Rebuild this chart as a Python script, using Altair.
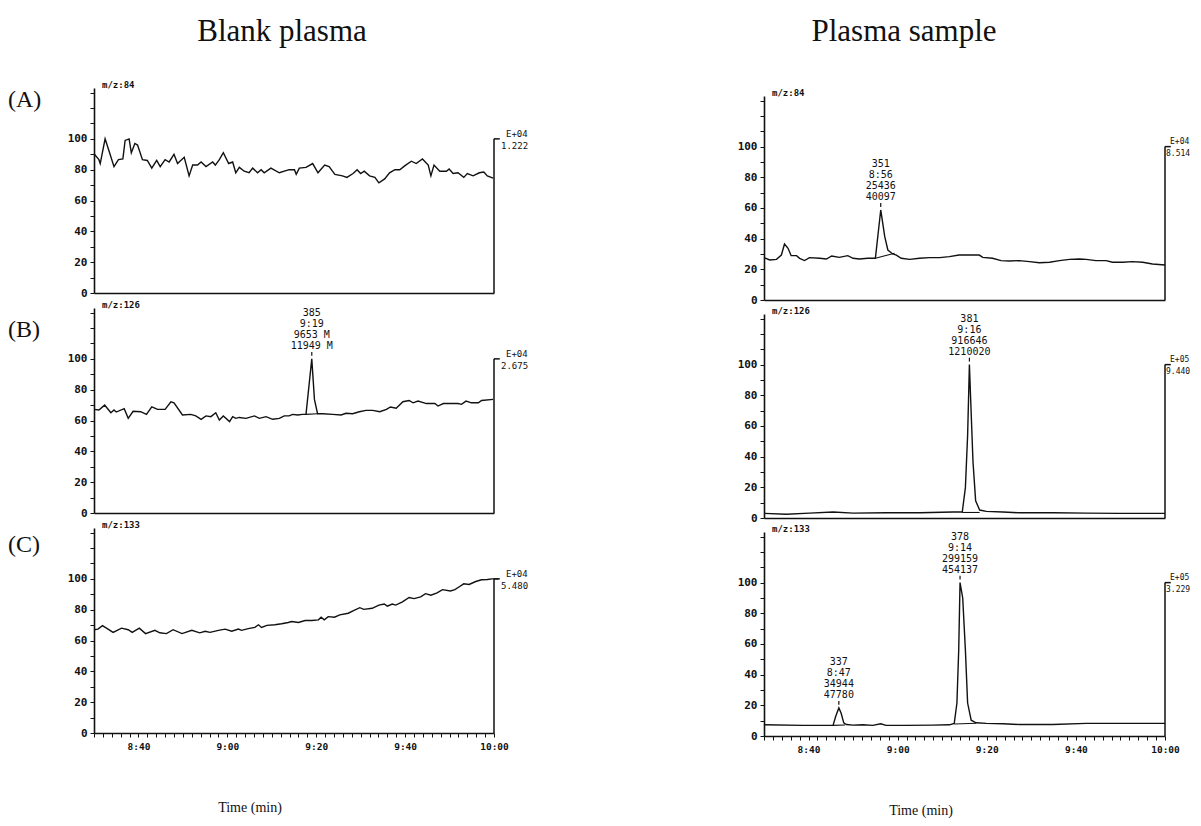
import altair as alt
import pandas as pd

# ---------------- data ----------------
START_MIN = 510          # 8:30 expressed in minutes
X_DOMAIN = [0, 90]       # minutes after 8:30
Y_DOMAIN = [0, 133]
x_tick_values = list(range(0, 91, 2))
y_tick_values = list(range(0, 131, 10))

column_titles = ["Blank plasma", "Plasma sample"]
row_labels = ["(A)", "(B)", "(C)"]
mz_labels = ["m/z:84", "m/z:126", "m/z:133"]
blank_exp = ["E+04", "E+04", "E+04"]
blank_val = ["1.222", "2.675", "5.480"]
sample_exp = ["E+04", "E+05", "E+05"]
sample_val = ["8.514", "9.440", "3.229"]
axis_title = "Time (min)"

# (minutes after 8:30, relative abundance)
blank_84 = [(0, 90.3), (1.1, 86.5), (1.4, 84), (2.5, 100), (3.4, 92), (4.5, 82), (5.5, 86.5),
            (6.5, 87), (7.0, 99), (7.9, 100), (8.4, 91), (9.2, 97), (9.8, 96), (10.9, 86.5),
            (12.0, 86), (13.0, 81), (14.1, 86), (14.9, 82), (16.0, 86.5), (16.9, 85), (18.0, 90),
            (18.8, 84), (20.3, 88), (21.4, 76), (22.2, 83), (23.3, 83), (24.1, 85), (25.2, 82),
            (26.7, 85), (27.3, 83), (28.2, 86.5), (29.1, 91), (30.3, 84), (31.2, 85), (31.9, 78),
            (32.7, 81.5), (33.8, 79), (34.9, 78), (35.7, 81), (36.8, 78), (37.6, 80), (38.3, 78),
            (39.8, 81), (41.7, 78), (43.9, 80), (45.1, 80), (45.5, 77), (46.2, 81), (47.7, 81.5),
            (49.2, 84), (50.4, 78), (51.9, 83), (52.9, 82), (54.2, 77), (55.9, 76), (56.9, 75),
            (58.3, 77.5), (59.2, 80), (60.0, 77.5), (60.8, 79), (62.0, 76), (63.2, 75), (64.1, 71.5),
            (65.4, 74), (66.5, 78), (67.7, 80), (68.8, 80), (69.9, 82.5), (71.4, 85.5), (72.5, 84),
            (73.9, 87), (75.2, 83), (75.8, 76), (76.5, 83), (77.8, 79), (79.3, 79), (79.9, 80.5),
            (80.8, 77.5), (81.9, 78), (83.2, 75), (84.0, 77.5), (85.3, 76), (86.7, 78), (87.7, 78.5),
            (88.5, 76), (89.8, 74.5)]

blank_126 = [(0, 67.2), (1.1, 66.8), (2.4, 70), (3.8, 65), (4.5, 66.8), (5.0, 65.5), (6.8, 67.7),
             (7.7, 61.4), (8.8, 66), (10.5, 65.7), (11.8, 64), (13.0, 68.8), (14.3, 67.2),
             (16.0, 67.2), (17.3, 72.2), (18.0, 71.5), (19.9, 63.6), (21.8, 64), (22.9, 63),
             (24.1, 60.8), (25.2, 63), (26.3, 62.5), (27.4, 65), (28.2, 60.3), (29.1, 63),
             (30.5, 59.3), (31.2, 62.5), (31.9, 61.4), (32.7, 62), (34.2, 61.4), (36.1, 63),
             (37.2, 61.4), (38.7, 62.5), (40.2, 60.8), (41.7, 61.4), (42.8, 63), (43.9, 63),
             (44.7, 64), (45.8, 63.6), (46.9, 64), (47.7, 64), (49.0, 100), (49.6, 73.7),
             (50.3, 64.4), (51.5, 64.4), (53.7, 64), (55.6, 63.6), (56.7, 64.7), (58.2, 64.4),
             (59.7, 65.7), (61.2, 66.6), (62.7, 66.6), (64.3, 65.7), (65.8, 67.2), (66.7, 68.8),
             (68.0, 68), (69.5, 72.2), (70.9, 73), (71.8, 71.5), (72.9, 72.6), (74.8, 71),
             (76.7, 71), (77.4, 69.4), (78.6, 71), (80.5, 71), (81.9, 71), (82.7, 70.5),
             (83.7, 72.6), (84.9, 71.5), (86.5, 71.5), (87.2, 73), (89.8, 73.7)]

blank_133 = [(0, 67), (0.9, 67.4), (1.9, 69.6), (2.8, 68), (4.3, 65.3), (6.2, 68), (7.7, 67),
             (8.6, 65.3), (10.2, 68), (11.6, 64.5), (13.7, 66.6), (14.8, 65), (16.3, 64.5),
             (17.8, 67), (19.8, 64.5), (22.0, 66.6), (23.8, 65), (25.0, 66), (26.1, 65.3),
             (28.0, 66.6), (29.5, 67.4), (31.0, 66), (32.5, 67.4), (33.2, 66.6), (34.7, 67.7),
             (36.2, 68.5), (37.0, 70.2), (37.7, 68.5), (38.9, 69.8), (40.7, 70.2), (42.2, 70.9),
             (43.7, 71.7), (44.5, 72.3), (46.0, 71.7), (47.5, 73), (49.0, 73), (50.5, 73.4),
             (51.1, 75.1), (51.8, 73.4), (52.7, 75.5), (54.1, 75.1), (55.3, 76.6), (57.2, 77.7),
             (58.4, 79.4), (59.8, 81.3), (60.7, 80.2), (62.6, 80.9), (64.1, 83), (65.3, 83.7),
             (66.0, 82.3), (67.1, 83.7), (67.9, 83), (69.4, 85.1), (70.9, 87.9), (72.0, 87.2),
             (73.5, 88.3), (74.6, 90.4), (75.8, 89.4), (77.2, 90.9), (78.4, 93), (80.2, 92.1),
             (81.2, 93), (82.1, 94.7), (83.2, 96.8), (84.4, 96.4), (85.9, 98.3), (87.2, 99.4),
             (88.5, 99.6), (89.6, 100), (90.0, 100), (91.0, 100)]

sample_84 = [(0, 27.6), (1.3, 26.1), (2.8, 26.5), (3.9, 29.3), (4.6, 36.5), (5.4, 33.7), (6.1, 28.9),
             (7.3, 28.9), (8.0, 27.2), (9.1, 25.7), (10.2, 27.6), (12.5, 27.2), (14.0, 26.7),
             (15.2, 28.7), (16.9, 27.8), (18.8, 28.9), (20.0, 27.2), (21.4, 26.7), (23.3, 27.2),
             (25.0, 27.2), (26.2, 58.7), (27.1, 41.3), (27.8, 32.6), (28.9, 30), (29.7, 29.3),
             (30.8, 27.2), (32.7, 26.5), (34.9, 27.2), (37.1, 27.6), (39.4, 27.6), (41.6, 28.3),
             (43.8, 29.3), (46.1, 29.3), (48.3, 29.3), (49.1, 27.8), (51.3, 27.2), (53.2, 25.7),
             (55.1, 25.4), (57.3, 25.7), (59.6, 25), (61.8, 24.3), (64.1, 24.6), (66.3, 25.7),
             (68.6, 26.5), (70.8, 26.7), (72.3, 26.5), (74.5, 25.7), (76.8, 25.7), (78.2, 24.6),
             (80.5, 24.6), (82.7, 25), (85.0, 24.6), (87.2, 23.5), (90.0, 22.8)]

sample_126 = [(0, 3.0), (5.0, 2.4), (10.2, 3.2), (15.5, 3.9), (20.0, 3.2), (27.5, 3.4), (35.0, 3.4),
              (42.4, 3.9), (44.5, 3.9), (45.2, 19.8), (45.7, 54), (46.1, 100), (46.35, 80),
              (46.9, 37), (47.5, 11.2), (48.4, 5.2), (49.9, 4.3), (53.6, 3.9), (57.3, 3.4),
              (64.8, 3.4), (72.3, 3.2), (79.8, 3.0), (90.0, 3.0)]

sample_133 = [(0, 7.3), (8.7, 6.9), (15.5, 6.9), (16.1, 12.9), (16.8, 18.3), (17.3, 15), (17.9, 8.6),
              (18.5, 7.5), (20.0, 7.1), (22.2, 7.3), (24.4, 6.9), (26.2, 8.0), (27.4, 6.9),
              (31.9, 6.9), (37.9, 7.1), (41.6, 7.3), (42.7, 8.2), (43.3, 21.5), (43.7, 55.9),
              (44.0, 100), (44.6, 90), (45.2, 56), (45.7, 21.5), (46.5, 10.3), (47.6, 8.6),
              (49.9, 8.2), (53.6, 8.0), (57.3, 7.5), (64.8, 7.5), (72.3, 8.2), (79.8, 8.2), (90.0, 8.2)]

# integration baselines drawn under the labelled peaks: [(t1, v1), (t2, v2)]
blank_126_base = [[(47.7, 64), (50.3, 64.4)]]
sample_84_base = [[(25.0, 27.2), (29.3, 30.5)]]
sample_126_base = [[(44.5, 3.6), (48.4, 3.6)]]
sample_133_base = [[(15.5, 6.9), (18.2, 7.2)], [(42.7, 7.8), (47.6, 8.3)]]

# peak annotations: (time, height, label lines)
blank_126_peaks = [(49.0, 100, "385\n9:19\n9653 M\n11949 M")]
sample_84_peaks = [(26.2, 58.7, "351\n8:56\n25436\n40097")]
sample_126_peaks = [(46.1, 100, "381\n9:16\n916646\n1210020")]
sample_133_peaks = [(16.8, 18.3, "337\n8:47\n34944\n47780"),
                    (44.0, 100, "378\n9:14\n299159\n454137")]

# ---------------- styling ----------------
WL, WR = 400, 401
HL, HR = 205, 204
INK = "#111111"
MONO = "DejaVu Sans Mono"
SERIF = "Liberation Serif"

_m = f"({START_MIN} + datum.value)"
x_label_expr = (f"datum.value % 20 == 10 ? (floor({_m} / 60) + ':' + "
                f"(({_m} % 60) < 10 ? '0' : '') + ({_m} % 60)) : ''")
y_label_expr = "datum.value <= 100 && datum.value % 20 == 0 ? datum.label : ''"


def xenc(field, bottom):
    if bottom:
        axis = alt.Axis(values=x_tick_values, labelExpr=x_label_expr, tickSize=4, tickColor=INK,
                        tickWidth=1, domainColor=INK, domainWidth=1.6, labelFont=MONO,
                        labelFontSize=9.5, labelFontWeight="bold", labelColor=INK, grid=False,
                        title=None, labelPadding=4, labelOverlap=False, labelFlush=False)
    else:
        axis = alt.Axis(labels=False, ticks=False, domainColor=INK, domainWidth=1.6,
                        grid=False, title=None)
    return alt.X(field, type="quantitative",
                 scale=alt.Scale(domain=X_DOMAIN, nice=False, zero=False), axis=axis)


def yenc(field):
    axis = alt.Axis(values=y_tick_values, labelExpr=y_label_expr, tickSize=4, tickColor=INK,
                    tickWidth=1, domainColor=INK, domainWidth=1.6, labelFont=MONO,
                    labelFontSize=11, labelFontWeight="bold", labelColor=INK, grid=False,
                    title=None, labelPadding=3, labelOverlap=False, labelFlush=False)
    return alt.Y(field, type="quantitative",
                 scale=alt.Scale(domain=Y_DOMAIN, nice=False, zero=True), axis=axis)


def panel(trace, bases, peaks, mz, exp, val, bottom, extras, w, h, sc_style):
    X = lambda f: xenc(f, bottom)
    layers = []
    df = pd.DataFrame(trace, columns=["t", "v"])
    layers.append(alt.Chart(df).mark_line(color=INK, strokeWidth=1.4).encode(x=X("t"), y=yenc("v")))

    if bases:
        rows = []
        for i, seg in enumerate(bases):
            for t, v in seg:
                rows.append({"seg": i, "t": t, "v": v})
        layers.append(alt.Chart(pd.DataFrame(rows)).mark_line(color=INK, strokeWidth=1.1).encode(
            x=X("t"), y=yenc("v"), detail="seg:N"))

    # right-hand full-scale bracket
    br = pd.DataFrame({"t": [90], "t1": [91.3], "v0": [0], "v1": [100]})
    layers.append(alt.Chart(br).mark_rule(color=INK, strokeWidth=1.5).encode(
        x=X("t"), y=yenc("v0"), y2=alt.Y2("v1")))
    layers.append(alt.Chart(br).mark_rule(color=INK, strokeWidth=1.5).encode(
        x=X("t"), x2=alt.X2("t1"), y=yenc("v1")))

    exp_dx, val_dx, fsize = sc_style
    sc = pd.DataFrame({"v": [100], "exp": [exp], "val": [val]})
    layers.append(alt.Chart(sc).mark_text(font=MONO, fontSize=fsize, color=INK, align="left",
                                          baseline="middle", dy=-5).encode(
        x=alt.value(w + exp_dx), y=yenc("v"), text="exp:N"))
    layers.append(alt.Chart(sc).mark_text(font=MONO, fontSize=fsize, color=INK, align="left",
                                          baseline="middle", dy=7).encode(
        x=alt.value(w + val_dx), y=yenc("v"), text="val:N"))

    mzdf = pd.DataFrame({"label": [mz]})
    layers.append(alt.Chart(mzdf).mark_text(font=MONO, fontSize=9, fontWeight="bold", color=INK,
                                            align="left", baseline="middle").encode(
        x=alt.value(8), y=alt.value(-3), text="label:N"))

    if peaks:
        pk = pd.DataFrame(peaks, columns=["t", "v", "label"])
        layers.append(alt.Chart(pk).mark_text(font=MONO, fontSize=10, color=INK, align="center",
                                              baseline="bottom", lineBreak="\n", lineHeight=11,
                                              dy=-41).encode(
            x=X("t"), y=yenc("v"), text="label:N"))
        layers.append(alt.Chart(pk).transform_calculate(
            v_lo="datum.v + 2", v_hi="datum.v + 4.5"
        ).mark_rule(color=INK, strokeWidth=1.2).encode(
            x=X("t"), y=yenc("v_lo"), y2=alt.Y2("v_hi")))

    for (txt, px, py, font, size) in extras:
        edf = pd.DataFrame({"label": [txt]})
        align = "left" if txt.startswith("(") else "center"
        layers.append(alt.Chart(edf).mark_text(font=font, fontSize=size, color=INK, align=align,
                                               baseline="middle").encode(
            x=alt.value(px), y=alt.value(py), text="label:N"))

    return alt.layer(*layers).properties(width=w, height=h)


def title_chart(text, px, w, h):
    tdf = pd.DataFrame({"label": [text]})
    return alt.Chart(tdf).mark_text(font=SERIF, fontSize=31, color=INK, align="center",
                                    baseline="middle").encode(
        x=alt.value(px), y=alt.value(16), text="label:N").properties(width=w, height=h)


LEFT_SC = (12, 7, 9)
RIGHT_SC = (5, 1, 8)

left = alt.vconcat(
    title_chart(column_titles[0], 188, WL, 62),
    panel(blank_84, [], [], mz_labels[0], blank_exp[0], blank_val[0], False,
          [(row_labels[0], -86, 12, SERIF, 24)], WL, HL, LEFT_SC),
    panel(blank_126, blank_126_base, blank_126_peaks, mz_labels[1], blank_exp[1], blank_val[1],
          False, [(row_labels[1], -86, 22, SERIF, 24)], WL, HL, LEFT_SC),
    panel(blank_133, [], [], mz_labels[2], blank_exp[2], blank_val[2], True,
          [(row_labels[2], -86, 17, SERIF, 24), (axis_title, 156, 280, SERIF, 14)],
          WL, HL, LEFT_SC),
    spacing=3,
)

right = alt.vconcat(
    title_chart(column_titles[1], 140, WR, 71),
    panel(sample_84, sample_84_base, sample_84_peaks, mz_labels[0], sample_exp[0], sample_val[0],
          False, [], WR, HR, RIGHT_SC),
    panel(sample_126, sample_126_base, sample_126_peaks, mz_labels[1], sample_exp[1],
          sample_val[1], False, [], WR, HR, RIGHT_SC),
    panel(sample_133, sample_133_base, sample_133_peaks, mz_labels[2], sample_exp[2],
          sample_val[2], True, [(axis_title, 157, 279, SERIF, 14)], WR, HR, RIGHT_SC),
    spacing=2,
)

chart = alt.hconcat(left, right, spacing=208).properties(
    padding={"left": 0, "top": 8, "right": 0, "bottom": 0}
).configure_view(stroke=None)

chart.save("out.html", embed_options={"renderer": "svg", "actions": False})
